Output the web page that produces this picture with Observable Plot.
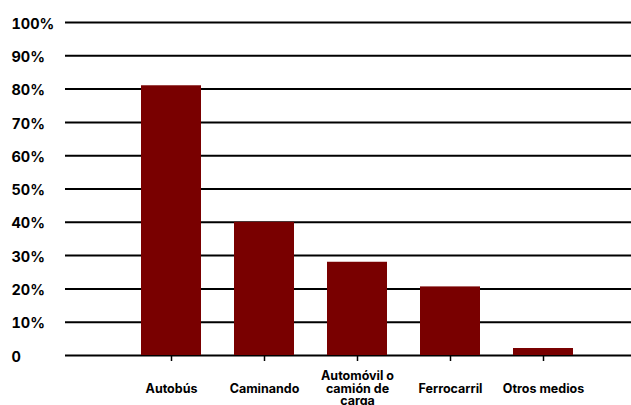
<!DOCTYPE html>
<html>
<head>
<meta charset="utf-8">
<script src="https://cdn.jsdelivr.net/npm/d3@7"></script>
<script src="https://cdn.jsdelivr.net/npm/@observablehq/plot@0.6"></script>
<style>
  html, body { margin: 0; padding: 0; background: #fff; }
  #chart svg { display: block; overflow: visible; }
</style>
</head>
<body>
<div id="chart"></div>
<script>
// Medio de transporte y porcentaje
const categories = ["Autobús", "Caminando", "Automóvil o\ncamión de\ncarga", "Ferrocarril", "Otros medios"];
const values = [81, 40, 28, 20.6, 2.1];
const yTicks = [0, 10, 20, 30, 40, 50, 60, 70, 80, 90, 100];
const yTickLabels = ["0", "10%", "20%", "30%", "40%", "50%", "60%", "70%", "80%", "90%", "100%"];

const data = categories.map((c, i) => ({ category: c, value: values[i] }));
const font = "Inter, 'Liberation Sans', sans-serif";

const chart = Plot.plot({
  width: 631,
  height: 405,
  marginLeft: 65,
  marginRight: 0,
  marginTop: 22,
  marginBottom: 50,
  style: { fontFamily: font, fontWeight: 700, color: "#000", background: "#fff", overflow: "visible" },
  x: { domain: categories, range: [140, 574], paddingInner: 0.36, paddingOuter: 0, label: null },
  y: { domain: [0, 100], label: null },
  marks: [
    Plot.ruleY(yTicks, { stroke: "#000", strokeWidth: 2 }),
    Plot.ruleX([0], { frameAnchor: "left", y1: 0, y2: 100, stroke: "#000", strokeWidth: 2.5 }),
    Plot.barY(data, { x: "category", y: "value", fill: "#790000" }),
    Plot.axisY(yTicks, {
      tickSize: 0,
      tickFormat: (d, i) => yTickLabels[i],
      textAnchor: "start",
      dx: -45,
      dy: 1.5,
      fontSize: 14.5,
      fontWeight: 700,
      label: null
    }),
    Plot.axisX({
      tickSize: 6,
      strokeWidth: 1.5,
      tickPadding: 27,
      lineAnchor: "middle",
      lineHeight: 1.0,
      fontSize: 12.5,
      fontWeight: 700,
      label: null
    })
  ]
});

document.getElementById("chart").appendChild(chart);
</script>
</body>
</html>
